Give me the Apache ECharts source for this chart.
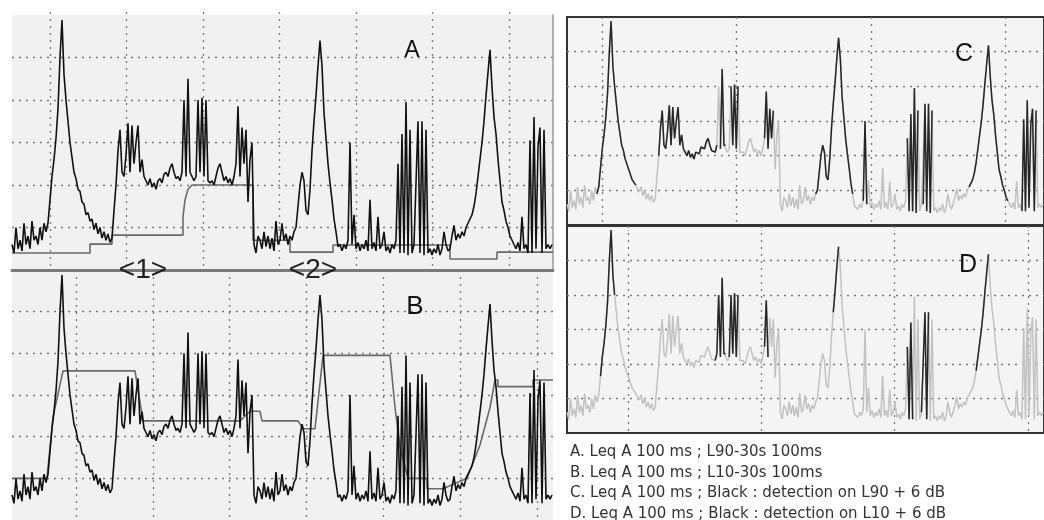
<!DOCTYPE html>
<html>
<head>
<meta charset="utf-8">
<script src="https://cdn.jsdelivr.net/npm/echarts@6/dist/echarts.min.js"></script>
<style>
  html, body { margin: 0; padding: 0; background: #fff; }
  #chart { width: 1044px; height: 520px; }
</style>
</head>
<body>
<div id="chart"></div>
<script>
// Leq A 100 ms, one value every 2 time units (t = 0 .. 540)
const SAMPLE_STEP = 2;
const leq = [
  36, 34, 40, 35, 37, 34.5, 41, 36, 38, 35,
  41.5, 37, 38, 36, 40, 37, 41, 39, 41, 46.5,
  52, 56, 61, 68, 80, 88.8, 76, 70, 65, 60,
  56.5, 53, 51.5, 49, 48.5, 46, 45.5, 43, 43.5, 41.5,
  42, 39.5, 41, 38.5, 40, 37.5, 39, 37, 38.5, 36.5,
  37.5, 44, 50, 58, 63, 53, 52, 57, 64.5, 53,
  64, 55, 60, 64, 53, 56, 52, 51, 50, 51.5,
  49.5, 50.5, 49, 51, 51.5, 50.5, 52.5, 53, 52, 54,
  55, 53, 51.5, 52, 51, 53, 70, 52, 75, 53,
  53, 51, 52, 70, 53, 70.5, 52, 70, 51, 50.5,
  51, 50, 52, 54, 55, 53, 51, 52, 50.5, 51.5,
  50, 52, 55, 68.5, 52, 63.5, 55, 63, 46, 56,
  60, 36, 34, 38, 37, 35, 39, 35.5, 38, 35,
  37.5, 34.5, 41.5, 36, 37, 41, 37, 38.5, 36, 38,
  37, 39, 40, 45, 50, 53, 51, 44, 43, 49,
  58, 65, 71, 78, 84, 78, 67, 61, 55, 50.5,
  46.5, 42, 39, 35.5, 36, 34.5, 36, 35, 37, 60,
  36, 43, 35, 36.5, 34.5, 36, 35, 37, 34.5, 46.5,
  35, 36.5, 34.5, 42.5, 35, 36, 39, 34.5, 35.5, 34,
  36, 35, 37, 55, 34, 62, 34, 69.5, 33.5, 63,
  34, 36, 36, 65, 34, 65, 33.5, 63, 34, 35,
  33.5, 35, 34, 36, 33.5, 35, 39, 36, 34.5, 35,
  38, 40.5, 37, 38.5, 37.5, 39, 38, 40, 41, 42,
  43, 45, 48, 52, 56, 60, 65, 71, 76.5, 81.8,
  73, 66, 62, 56, 51, 46, 44, 41.5, 40, 38,
  37, 36, 35, 36.5, 34.5, 42.5, 35, 36, 34, 60.5,
  34, 66, 35, 59, 63.5, 34, 63, 35, 36, 35,
  36
];

// L90-30s (panel A), breakpoints
const l90Time  = [0, 78, 78, 100, 100, 171, 171, 173, 176, 180, 241, 241, 278, 278, 321, 321, 438, 438, 485, 485, 541];
const l90Level = [34, 34, 36.1, 36.1, 38.2, 38.2, 42.5, 46.5, 49, 50, 50, 37, 37, 34.2, 34.2, 35.9, 35.9, 32.6, 32.6, 34.2, 34.2];

// L10-30s (panel B), breakpoints
const l10Time  = [0, 35, 41, 51, 123, 131, 228, 238, 248, 250, 286, 291, 303, 311, 378, 383, 388, 396, 415, 415, 431, 455, 468, 478, 483, 486, 486, 521, 521, 541];
const l10Level = [40, 40, 54.7, 65.8, 65.8, 53.8, 53.8, 56.1, 56.1, 53.8, 53.8, 51.9, 51.9, 69.5, 69.5, 57, 47.6, 40, 40, 37.5, 37.5, 40, 48, 57, 63.6, 63.6, 62, 62, 63.6, 63.6];

// time spans drawn black (detection)
const detectL90 = [[34, 79], [103, 171], [173, 180], [185, 195], [224, 234], [282, 324], [336, 341], [386, 398], [403, 414], [455, 500], [515, 533]];
const detectL10 = [[38, 55], [168, 180], [183, 195], [224, 228], [302, 309], [386, 393], [401, 411], [464, 478]];

const legendLines = [
  'A. Leq A 100 ms ; L90-30s 100ms',
  'B. Leq A 100 ms ; L10-30s 100ms',
  'C. Leq A 100 ms ; Black : detection on L90 + 6 dB',
  'D. Leq A 100 ms ; Black : detection on L10 + 6 dB'
];

const leqData = leq.map((v, i) => [i * SAMPLE_STEP, v]);
const pairs = (ts, vs) => ts.map((t, i) => [t, vs[i]]);
const masked = (spans) => leqData.map(([t, v]) =>
  [t, spans.some(([a, b]) => t >= a && t <= b) ? v : null]);

const FONT = '"Liberation Sans", Arial, sans-serif';
const dotted = { color: '#7a7a7a', width: 1.3, type: [2, 5] };

function dataAxes(gi, opts) {
  return {
    x: {
      type: 'value', gridIndex: gi, min: 0, max: 541,
      axisLine: opts.bottomLine
        ? { show: true, onZero: false, lineStyle: { color: '#7a7a7a', width: 3 } }
        : { show: false },
      axisTick: { show: false }, axisLabel: { show: false }, splitLine: { show: false }
    },
    y: {
      type: 'value', gridIndex: gi, min: 30, max: 90, interval: 10,
      position: 'right',
      axisLine: opts.rightLine
        ? { show: true, onZero: false, lineStyle: { color: '#9a9a9a', width: 1.5 } }
        : { show: false },
      axisTick: { show: false }, axisLabel: { show: false },
      splitLine: { show: true, showMinLine: false, showMaxLine: false, lineStyle: dotted }
    }
  };
}
function lineAxes(gi, divisions) {
  return {
    x: {
      type: 'value', gridIndex: gi, min: 0, max: divisions, interval: 1,
      axisLine: { show: false }, axisTick: { show: false }, axisLabel: { show: false },
      splitLine: { show: true, showMaxLine: false, lineStyle: dotted }
    },
    y: { type: 'value', gridIndex: gi, min: 0, max: 1, show: false }
  };
}

const axesList = [
  dataAxes(0, { bottomLine: true, rightLine: true }),
  lineAxes(1, 503 / 76.5),
  dataAxes(2, {}),
  lineAxes(3, 477 / 76.8),
  dataAxes(4, {}),
  lineAxes(5, 449 / 136.7),
  dataAxes(6, {}),
  lineAxes(7, 423 / 135.5)
];

const chart = echarts.init(document.getElementById('chart'), null, { renderer: 'canvas' });

const sig = (xi, data, color, z, w) => ({
  type: 'line', xAxisIndex: xi, yAxisIndex: xi, data: data,
  symbol: 'none', connectNulls: false, z: z,
  lineStyle: { color: color, width: w }
});

chart.setOption({
  animation: false,
  backgroundColor: '#ffffff',
  grid: [
    { left: 12, top: 15, width: 541, height: 255, show: true, backgroundColor: '#f1f1f1', borderWidth: 0 },
    { left: 50, top: 12, width: 503, height: 258 },
    { left: 12, top: 270, width: 541, height: 256, show: true, backgroundColor: '#f1f1f1', borderWidth: 0 },
    { left: 76, top: 270, width: 477, height: 256 },
    { left: 567, top: 17, width: 484, height: 208, show: true, backgroundColor: '#f4f4f4', borderColor: '#333', borderWidth: 2 },
    { left: 602, top: 17, width: 449, height: 208 },
    { left: 567, top: 226, width: 484, height: 207, show: true, backgroundColor: '#f4f4f4', borderColor: '#333', borderWidth: 2 },
    { left: 628, top: 226, width: 423, height: 207 }
  ],
  xAxis: axesList.map(a => a.x),
  yAxis: axesList.map(a => a.y),
  series: [
    sig(0, pairs(l90Time, l90Level), '#6a6a6a', 2, 1.6),
    sig(0, leqData, '#111', 3, 1.6),
    sig(2, pairs(l10Time, l10Level), '#6a6a6a', 2, 1.6),
    sig(2, leqData, '#111', 3, 1.6),
    sig(4, leqData, '#c2c2c2', 2, 1.5),
    sig(4, masked(detectL90), '#262626', 3, 1.5),
    sig(6, leqData, '#c2c2c2', 2, 1.5),
    sig(6, masked(detectL10), '#262626', 3, 1.5)
  ],
  graphic: [
    { type: 'text', x: 412, y: 51, z: 10, style: { text: 'A', fontSize: 23, fontFamily: FONT, fill: '#111', align: 'center', verticalAlign: 'middle' } },
    { type: 'text', x: 415, y: 307, z: 10, style: { text: 'B', fontSize: 26, fontFamily: FONT, fill: '#111', align: 'center', verticalAlign: 'middle' } },
    { type: 'text', x: 964, y: 54, z: 10, style: { text: 'C', fontSize: 25, fontFamily: FONT, fill: '#111', align: 'center', verticalAlign: 'middle' } },
    { type: 'text', x: 968, y: 265, z: 10, style: { text: 'D', fontSize: 25, fontFamily: FONT, fill: '#111', align: 'center', verticalAlign: 'middle' } },
    { type: 'text', x: 143, y: 270, z: 10, style: { text: '<1>', fontSize: 28, fontFamily: FONT, fill: '#222', align: 'center', verticalAlign: 'middle' } },
    { type: 'text', x: 313, y: 270, z: 10, style: { text: '<2>', fontSize: 28, fontFamily: FONT, fill: '#222', align: 'center', verticalAlign: 'middle' } }
  ].concat(legendLines.map((s, i) => ({
    type: 'text', x: 570, y: 452 + i * 20.7, z: 10,
    style: { text: s, fontSize: 15, fontFamily: '"DejaVu Sans", sans-serif', fill: '#333', align: 'left', verticalAlign: 'middle' }
  })))
});
</script>
</body>
</html>
